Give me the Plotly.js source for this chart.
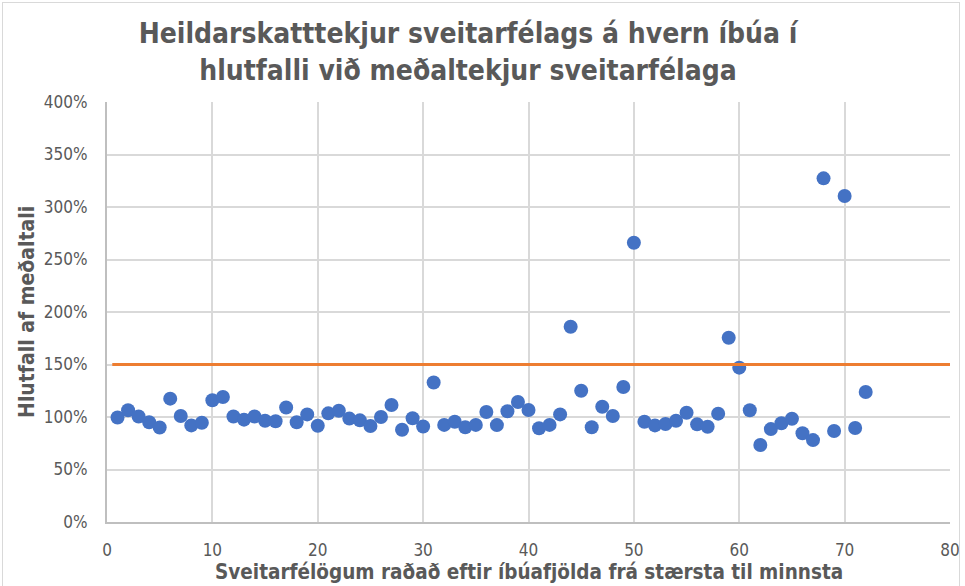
<!DOCTYPE html>
<html><head><meta charset="utf-8">
<script src="https://cdn.plot.ly/plotly-3.0.1.min.js"></script>
<style>
body{margin:0;background:#fff}
#chart{width:965px;height:586px}
#frame{position:absolute;left:2px;top:2px;width:956px;height:620px;border:1px solid #d9d9d9;pointer-events:none}
</style>
</head><body>
<div id="chart"></div><div id="frame"></div>
<script>
// Municipality rank (by population, largest first)
const municipalityRank = [
  1,2,3,4,5,6,7,8,9,10,11,12,13,14,15,16,17,18,19,20,21,22,23,24,
  25,26,27,28,29,30,31,32,33,34,35,36,37,38,39,40,41,42,43,44,45,46,47,48,
  49,50,51,52,53,54,55,56,57,58,59,60,61,62,63,64,65,66,67,68,69,70,71,72
];
// Total tax revenue per inhabitant relative to the average (1 = 100%)
const ratioToAverage = [
  0.995,1.065,1.005,0.95,0.90,1.175,1.01,0.92,0.945,1.16,1.19,1.005,
  0.975,1.005,0.965,0.96,1.09,0.95,1.025,0.917,1.035,1.06,0.985,0.968,
  0.915,1.00,1.115,0.878,0.988,0.91,1.328,0.925,0.955,0.903,0.925,1.048,
  0.923,1.055,1.143,1.067,0.893,0.925,1.025,1.86,1.25,0.903,1.098,1.01,
  1.286,2.66,0.955,0.92,0.933,0.965,1.04,0.93,0.907,1.032,1.755,1.47,
  1.065,0.733,0.885,0.94,0.984,0.845,0.78,3.273,0.867,3.105,0.895,1.238
];
// Reference level line (150%)
const referenceX = [0.5, 80];
const referenceLevel = [1.5, 1.5];

const titleText = 'Heildarskatttekjur sveitarfélags á hvern íbúa í<br>hlutfalli við meðaltekjur sveitarfélaga';
const xTitle = 'Sveitarfélögum raðað eftir íbúafjölda frá stærsta til minnsta';
const yTitle = 'Hlutfall af meðaltali';

const FONT = '"DejaVu Sans Condensed", "Liberation Sans Narrow", Arial, sans-serif';
const GREY = '#595959';

const traces = [
  {
    x: municipalityRank, y: ratioToAverage, type: 'scatter', mode: 'markers',
    marker: {color: '#4472C4', size: 14, line: {width: 0}},
    hoverinfo: 'x+y'
  },
  {
    x: referenceX, y: referenceLevel, type: 'scatter', mode: 'lines',
    line: {color: '#ED7D31', width: 3}, hoverinfo: 'skip'
  }
];

const layout = {
  width: 965, height: 586,
  margin: {l: 107, r: 15, t: 102, b: 64},
  paper_bgcolor: '#fff', plot_bgcolor: '#fff',
  showlegend: false,
  font: {family: FONT, color: GREY},
  title: {
    text: titleText, x: 0.485, xref: 'container', xanchor: 'center',
    y: 0.926, yref: 'container', yanchor: 'middle',
    font: {family: FONT, size: 28, color: GREY, weight: 'bold'}
  },
  xaxis: {
    range: [0, 80], dtick: 10, tick0: 0, ticks: '',
    showgrid: true, gridcolor: '#d9d9d9', gridwidth: 1.5,
    showline: true, linecolor: '#bfbfbf', linewidth: 2,
    zeroline: false, tickfont: {size: 17, color: GREY}, ticklabelstandoff: 12
  },
  yaxis: {
    range: [0, 4], dtick: 0.5, tick0: 0, tickformat: '.0%', ticks: '',
    showgrid: true, gridcolor: '#d9d9d9', gridwidth: 1.5,
    showline: true, linecolor: '#bfbfbf', linewidth: 2,
    zeroline: false, tickfont: {size: 17, color: GREY}, ticklabelstandoff: 14
  },
  annotations: [
    {text: xTitle, xref: 'paper', yref: 'paper', x: 0.5, y: -0.12,
     xanchor: 'center', yanchor: 'middle', showarrow: false,
     font: {family: FONT, size: 20.5, color: GREY, weight: 'bold'}},
    {text: yTitle, xref: 'paper', yref: 'paper', x: -0.095, y: 0.5,
     xanchor: 'center', yanchor: 'middle', textangle: -90, showarrow: false,
     font: {family: FONT, size: 21, color: GREY, weight: 'bold'}}
  ]
};

Plotly.newPlot('chart', traces, layout, {displayModeBar: false, responsive: false});
</script>
</body></html>
